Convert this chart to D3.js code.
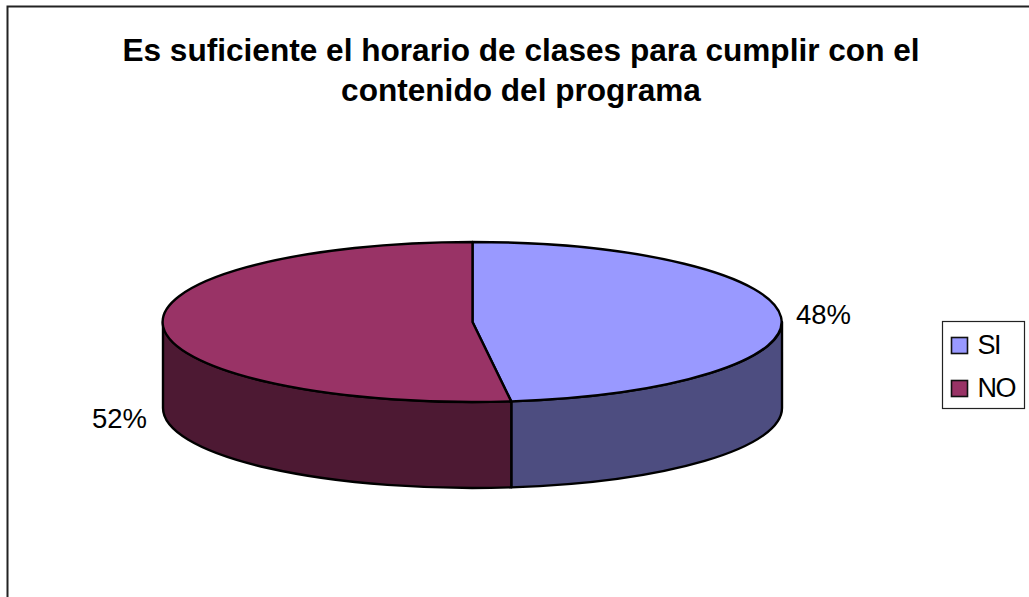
<!DOCTYPE html>
<html>
<head>
<meta charset="utf-8">
<script src="https://cdnjs.cloudflare.com/ajax/libs/d3/7.8.5/d3.min.js"></script>
<style>
  html, body { margin: 0; padding: 0; background: #fff; }
  svg { display: block; font-family: "Liberation Sans", Arial, sans-serif; }
  .edge { stroke: #000; stroke-width: 2.4px; vector-effect: non-scaling-stroke; stroke-linejoin: round; }
</style>
</head>
<body>
<svg id="chart"></svg>
<script>
var titleLines = ["Es suficiente el horario de clases para cumplir con el", "contenido del programa"];
var categories = ["SI", "NO"];
var values = [48, 52];
var topColors = ["#9999ff", "#993366"];
var sideColors = ["#4d4d80", "#4d1933"];

var width = 1029, height = 597;
var cx = 472.5, cy = 322, rx = 309.5, ry = 80, depth = 86;

var svg = d3.select("#chart").attr("width", width).attr("height", height);

// chart frame, only left and top show in the source crop
svg.append("path")
  .attr("d", "M7.5,597V6.5H1029")
  .attr("fill", "none")
  .attr("stroke", "#222")
  .attr("stroke-width", 2);

svg.selectAll(".title")
  .data(titleLines)
  .enter().append("text")
    .attr("class", "title")
    .attr("x", 521)
    .attr("y", function(d, i) { return 61 + i * 40; })
    .attr("text-anchor", "middle")
    .attr("font-size", 31.6)
    .attr("font-weight", "bold")
    .text(function(d) { return d; });

var pie = d3.pie().sort(null);
var slices = pie(values);

// everything is drawn on a unit circle and squashed into the ellipse
var arc = d3.arc().innerRadius(0).outerRadius(1);
var pieG = svg.append("g")
  .attr("transform", "translate(" + cx + "," + cy + ") scale(" + rx + "," + ry + ")");

var unitDepth = depth / ry;

function sidePath(d) {
  var a = Math.max(d.startAngle, Math.PI / 2) - Math.PI / 2;
  var b = Math.min(d.endAngle, 3 * Math.PI / 2) - Math.PI / 2;
  var p = d3.path();
  p.arc(0, 0, 1, a, b);
  p.lineTo(Math.cos(b), Math.sin(b) + unitDepth);
  p.arc(0, unitDepth, 1, b, a, true);
  p.closePath();
  return p.toString();
}

pieG.selectAll(".side")
  .data(slices)
  .enter().append("path")
    .attr("class", "side edge")
    .attr("d", sidePath)
    .attr("fill", function(d, i) { return sideColors[i]; });

pieG.selectAll(".top")
  .data(slices)
  .enter().append("path")
    .attr("class", "top edge")
    .attr("d", arc)
    .attr("fill", function(d, i) { return topColors[i]; });

// percent labels
var labelSpots = [[823.5, 324], [119.5, 428]];
svg.selectAll(".pct")
  .data(slices)
  .enter().append("text")
    .attr("class", "pct")
    .attr("x", function(d, i) { return labelSpots[i][0]; })
    .attr("y", function(d, i) { return labelSpots[i][1]; })
    .attr("text-anchor", "middle")
    .attr("font-size", 27.5)
    .text(function(d) { return d.value + "%"; });

// legend
var legend = svg.append("g").attr("transform", "translate(942,321)");
legend.append("rect")
  .attr("x", 0.5).attr("y", 0.5)
  .attr("width", 82).attr("height", 87)
  .attr("fill", "#fff")
  .attr("stroke", "#222")
  .attr("stroke-width", 1.2);

var rows = legend.selectAll(".row")
  .data(categories)
  .enter().append("g")
    .attr("class", "row")
    .attr("transform", function(d, i) { return "translate(9.5," + (16.5 + i * 43) + ")"; });

rows.append("rect")
  .attr("width", 16).attr("height", 16)
  .attr("fill", function(d, i) { return topColors[i]; })
  .attr("stroke", "#111")
  .attr("stroke-width", 1.6);

rows.append("text")
  .attr("x", 26)
  .attr("y", 16)
  .attr("font-size", 27)
  .attr("letter-spacing", -1.6)
  .text(function(d) { return d; });
</script>
</body>
</html>
